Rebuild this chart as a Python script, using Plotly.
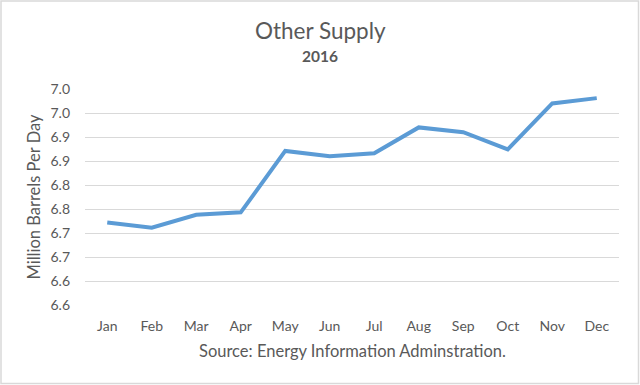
import plotly.graph_objects as go

months = ["Jan", "Feb", "Mar", "Apr", "May", "Jun", "Jul", "Aug", "Sep", "Oct", "Nov", "Dec"]
supply = [6.722, 6.711, 6.738, 6.743, 6.871, 6.860, 6.866, 6.920, 6.910, 6.874, 6.970, 6.981]
y_tickvals = [6.55, 6.60, 6.65, 6.70, 6.75, 6.80, 6.85, 6.90, 6.95, 7.00]
y_ticktext = ["6.6", "6.6", "6.7", "6.7", "6.8", "6.8", "6.9", "6.9", "7.0", "7.0"]

W, H = 640, 385
L, R, T, B = 85, 21, 89, 80
pw, ph = W - L - R, H - T - B

def px(x):
    return (x - L) / pw

def py(y):
    return 1 - (y - T) / ph

txt = "#595959"
font = "Lato, 'Open Sans', sans-serif"

fig = go.Figure()
fig.add_trace(go.Scatter(
    x=months, y=supply, mode="lines",
    line=dict(color="#5b9bd5", width=4),
    hoverinfo="skip", showlegend=False,
))

fig.update_layout(
    width=W, height=H,
    margin=dict(l=L, r=R, t=T, b=B, autoexpand=False),
    paper_bgcolor="white", plot_bgcolor="white",
    font=dict(family=font, color=txt, size=13),
    xaxis=dict(
        type="category", range=[-0.5, 11.5], showgrid=False, zeroline=False, showline=False,
        ticks="", tickfont=dict(size=14, color=txt), ticklabelstandoff=11,
        fixedrange=True,
    ),
    yaxis=dict(
        range=[6.55, 7.00], tickvals=y_tickvals, ticktext=y_ticktext,
        showgrid=True, gridcolor="#d9d9d9", gridwidth=1, zeroline=False,
        showline=False, ticks="", tickfont=dict(size=14, color=txt),
        ticklabelstandoff=14,
        title=dict(text="Million Barrels Per Day", font=dict(size=16.5, color=txt), standoff=5),
        fixedrange=True,
    ),
    annotations=[
        dict(text="Other Supply", x=px(320), y=py(31), xref="paper", yref="paper",
             showarrow=False, font=dict(size=22.5, color=txt), xanchor="center", yanchor="middle"),
        dict(text="<b>2016</b>", x=px(320), y=py(56.5), xref="paper", yref="paper",
             showarrow=False, font=dict(size=15.5, color=txt), xanchor="center", yanchor="middle"),
        dict(text="Source: Energy Information Adminstration.", x=px(352), y=py(351),
             xref="paper", yref="paper", showarrow=False,
             font=dict(size=16.5, color=txt), xanchor="center", yanchor="middle"),
    ],
    shapes=[
        dict(type="rect", xref="paper", yref="paper",
             x0=px(1), x1=px(638.5), y0=py(383.5), y1=py(1),
             line=dict(color="#d9d9d9", width=1.5), fillcolor="rgba(0,0,0,0)", layer="below"),
    ],
)

fig.write_html("out.html", config={"displayModeBar": False},
               post_script="document.body.style.margin='0';document.body.style.padding='0';")
